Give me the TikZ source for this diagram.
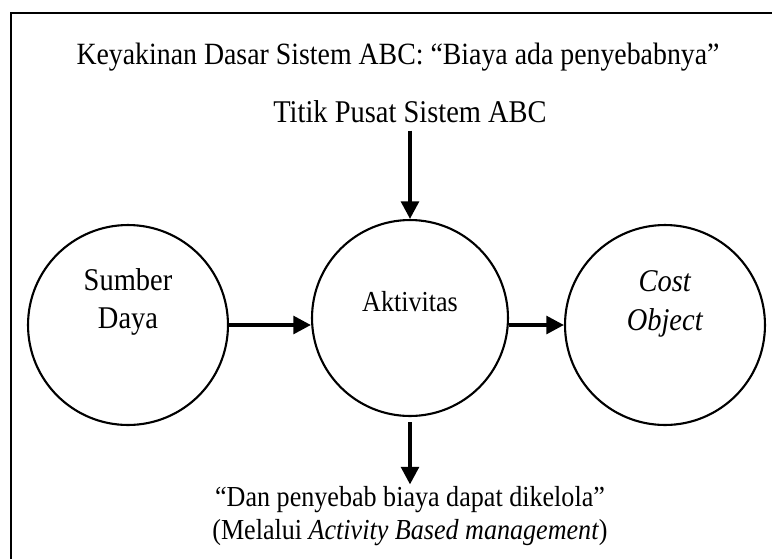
\documentclass[tikz,border=0pt]{standalone}
\usepackage{fontspec}
\setmainfont{Liberation Serif}[FakeStretch=0.9]
\usetikzlibrary{arrows.meta,positioning}
\begin{document}
\begin{tikzpicture}[x=0.02cm,y=-0.02cm,
  lingkar/.style={draw,circle,line width=1.2pt,inner sep=0pt,minimum size=4cm},
  teks/.style={align=center,inner sep=1pt,font=\fontsize{18}{22}\selectfont},
  panah/.style={line width=2.2pt,-{Triangle[width=10pt,length=10pt]}}]
\useasboundingbox (0,0) rectangle (772,559);
% bingkai, terpotong di kanan dan bawah
\draw[line width=1.5pt] (11,559) -- (11,13) -- (772,13);
\node[teks,font=\fontsize{17.6}{22}\selectfont] (keyakinan) at (398,57) {Keyakinan Dasar Sistem ABC: “Biaya ada penyebabnya”};
\node[teks] (titik) at (410,112) {Titik Pusat Sistem ABC};
% tiga lingkaran
\node[lingkar] (sumber) at (128,325) {};
\node[lingkar,minimum size=3.92cm] (aktivitas) at (410,318) {};
\node[lingkar] (cost) at (665,325) {};
\node[teks] (sumberteks) at (128,302) {Sumber\\Daya};
\node[teks,font=\fontsize{16.5}{18}\selectfont] (aktivitasteks) at (410,302) {Aktivitas};
\node[teks] (costteks) at (665,304) {\textit{Cost}\\\textit{Object}};
\node[teks,font=\fontsize{16.5}{18.5}\selectfont] (kelola) at (410,516)
  {“Dan penyebab biaya dapat dikelola”\\(Melalui \textit{Activity Based management})};
% panah
\draw[panah] ([yshift=-3pt]titik.south) -- (aktivitas.north);
\draw[panah] (sumber.east) -- (sumber.east -| aktivitas.west);
\draw[panah] (aktivitas.east |- cost.west) -- (cost.west);
\draw[panah] ([yshift=-3pt]aktivitas.south) -- (kelola.north);
\end{tikzpicture}
\end{document}
